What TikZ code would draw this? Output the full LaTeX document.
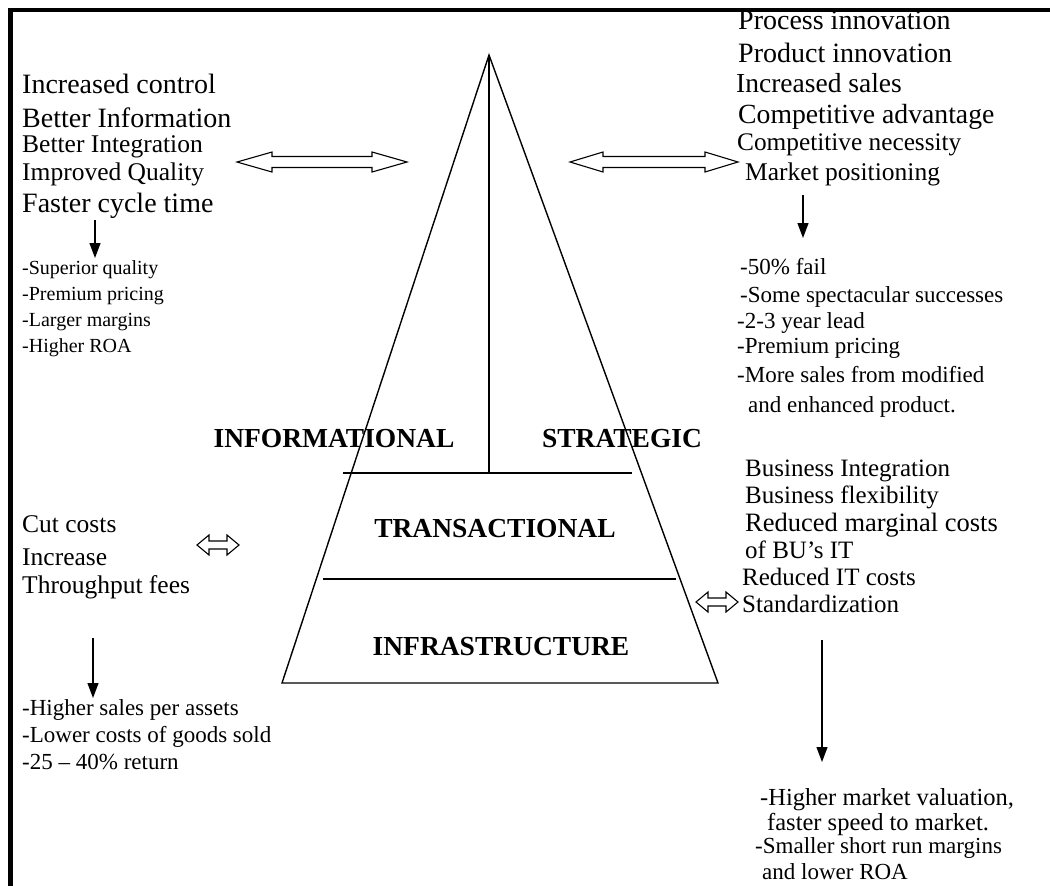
\documentclass[tikz,border=0pt]{standalone}
\usepackage{fontspec}
\setmainfont{Liberation Serif}
\usetikzlibrary{arrows.meta}
\newcommand{\fsz}[1]{\fontsize{#1}{#1}\selectfont}
% hollow two-headed arrow: left x, right x, y, head length, head half width, shaft half width
\newcommand{\dblarrow}[6]{%
  \draw[line width=1.1](#1,#3)--(#1+#4,#3-#5)--(#1+#4,#3-#6)--(#2-#4,#3-#6)--(#2-#4,#3-#5)--(#2,#3)
    --(#2-#4,#3+#5)--(#2-#4,#3+#6)--(#1+#4,#3+#6)--(#1+#4,#3+#5)--cycle;}
\tikzset{
  txt/.style={anchor=base west,inner sep=0pt,font=\fsz{#1}},
  lbl/.style={anchor=base,inner sep=0pt,font=\fsz{27.5}\bfseries},
  down/.style={-{Triangle[width=11,length=15]},line width=1.2},
}
\begin{document}
\begin{tikzpicture}[x=1pt,y=-1pt]
\useasboundingbox(0,0)rectangle(1050,886);
% pyramid
\coordinate(T)at(489,55);
\coordinate(BL)at(282,683);
\coordinate(BR)at(718,683);
\coordinate(M)at(489,473);
\coordinate(H1)at(343,473);
\coordinate(H2)at(632,473);
\coordinate(H3)at(323,579);
\coordinate(H4)at(676,579);
\draw[line width=1.4](T)--(BL)--(BR)--cycle;
\draw[line width=1.4](T)--(M);
\draw[line width=1.4](H1)--(H2);
\draw[line width=1.4](H3)--(H4);
\node[lbl](info)at(334,447){INFORMATIONAL};
\node[lbl](strat)at(622,447){STRATEGIC};
\node[lbl](trans)at(495,537){TRANSACTIONAL};
\node[lbl](infra)at(501,655){INFRASTRUCTURE};
% left top
\node[txt=28](l1)at(22,93){Increased control};
\node[txt=28](l2)at(22,127){Better Information};
\node[txt=25.5](l3)at(22,152){Better Integration};
\node[txt=25.5](l4)at(22,180){Improved Quality};
\node[txt=28](l5)at(22,212){Faster cycle time};
\node[txt=20](la)at(22,274){-Superior quality};
\node[txt=20](lb)at(22,300){-Premium pricing};
\node[txt=20](lc)at(22,326){-Larger margins};
\node[txt=20](ld)at(22,352){-Higher ROA};
% right top
\node[txt=28](r1)at(738,29){Process innovation};
\node[txt=28](r2)at(738,62){Product innovation};
\node[txt=27.5](r3)at(736,92){Increased sales};
\node[txt=27.7](r4)at(738,123){Competitive advantage};
\node[txt=25.3](r5)at(737,150){Competitive necessity};
\node[txt=25.5](r6)at(745,180){Market positioning};
\node[txt=23](ra)at(740,274){-50\% fail};
\node[txt=23](rb)at(740,302){-Some spectacular successes};
\node[txt=23](rc)at(737,328){-2-3 year lead};
\node[txt=23](rd)at(737,353){-Premium pricing};
\node[txt=23](re)at(737,382){-More sales from modified};
\node[txt=23](rf)at(748,412){and enhanced product.};
% right middle
\node[txt=25](m1)at(745,476){Business Integration};
\node[txt=25](m2)at(745,503){Business flexibility};
\node[txt=26.5](m3)at(745,531){Reduced marginal costs};
\node[txt=25](m4)at(745,558){of BU’s IT};
\node[txt=25](m5)at(742,585){Reduced IT costs};
\node[txt=25](m6)at(742,612){Standardization};
% left bottom
\node[txt=25.5](b1)at(22,532){Cut costs};
\node[txt=25.5](b2)at(22,565){Increase};
\node[txt=25.5](b3)at(22,593){Throughput fees};
\node[txt=23](ba)at(22,715){-Higher sales per assets};
\node[txt=23](bb)at(22,742){-Lower costs of goods sold};
\node[txt=23](bc)at(22,769){-25 – 40\% return};
% right bottom
\node[txt=24.5](sa)at(760,805){-Higher market valuation,};
\node[txt=24.5](sb)at(767,830){faster speed to market.};
\node[txt=23](sc)at(755,853){-Smaller short run margins};
\node[txt=23](sd)at(762,879){and lower ROA};
% arrows
\dblarrow{237}{407}{162}{35}{10}{5.5}
\dblarrow{570}{738}{162}{33}{10}{5.5}
\dblarrow{197}{239}{545}{12}{10}{4}
\dblarrow{696}{738}{602}{12}{10}{4}
\coordinate(A1)at(95,220);\coordinate(A2)at(95,258);
\coordinate(A3)at(803,195);\coordinate(A4)at(803,238);
\coordinate(A5)at(93,638);\coordinate(A6)at(93,698);
\coordinate(A7)at(822,640);\coordinate(A8)at(822,762);
\draw[down](A1)--(A2);
\draw[down](A3)--(A4);
\draw[down](A5)--(A6);
\draw[down](A7)--(A8);
% frame
\draw[line width=4.5](10.5,886)--(10.5,10)--(1050,10);
\end{tikzpicture}
\end{document}
